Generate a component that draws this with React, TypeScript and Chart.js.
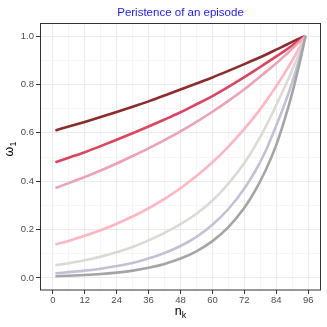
import React, { useEffect, useRef } from "react";
import { Chart, registerables } from "chart.js";

Chart.register(...registerables);

const nValues = [1, 6, 12, 18, 24, 30, 36, 42, 48, 54, 60, 66, 72, 76, 80, 84, 87, 90, 93, 95];
const seriesDarkRed = [0.61, 0.626, 0.645, 0.665, 0.686, 0.708, 0.73, 0.754, 0.779, 0.804, 0.829, 0.856, 0.884, 0.903, 0.923, 0.944, 0.96, 0.976, 0.991, 1.0];
const seriesCrimson = [0.478, 0.497, 0.52, 0.545, 0.571, 0.598, 0.626, 0.655, 0.685, 0.718, 0.752, 0.79, 0.83, 0.858, 0.887, 0.916, 0.938, 0.961, 0.985, 1.0];
const seriesRose = [0.372, 0.392, 0.417, 0.444, 0.473, 0.504, 0.536, 0.57, 0.606, 0.645, 0.687, 0.732, 0.78, 0.815, 0.851, 0.888, 0.917, 0.948, 0.979, 1.0];
const seriesPink = [0.138, 0.153, 0.174, 0.197, 0.224, 0.254, 0.288, 0.327, 0.371, 0.421, 0.478, 0.543, 0.616, 0.67, 0.729, 0.793, 0.845, 0.9, 0.959, 1.0];
const seriesBeige = [0.052, 0.061, 0.073, 0.088, 0.106, 0.128, 0.155, 0.186, 0.222, 0.265, 0.32, 0.39, 0.475, 0.545, 0.625, 0.715, 0.785, 0.86, 0.94, 1.0];
const seriesLavender = [0.019, 0.024, 0.03, 0.038, 0.049, 0.062, 0.08, 0.103, 0.132, 0.17, 0.22, 0.285, 0.37, 0.44, 0.525, 0.63, 0.715, 0.81, 0.918, 1.0];
const seriesGray = [0.007, 0.009, 0.012, 0.016, 0.022, 0.03, 0.042, 0.058, 0.08, 0.11, 0.152, 0.21, 0.29, 0.36, 0.445, 0.55, 0.65, 0.765, 0.9, 1.0];

const seriesList = [seriesGray, seriesLavender, seriesBeige, seriesPink, seriesRose, seriesCrimson, seriesDarkRed];
const seriesColors = ["#a5a5a7", "#c3c1d5", "#dcdad5", "#ffb6c1", "#eda2b6", "#dc4560", "#8c2c2c"];

const xTicks = [0, 12, 24, 36, 48, 60, 72, 84, 96];
const xMinorTicks = [6, 18, 30, 42, 54, 66, 78, 90];
const yTicks = [0, 0.2, 0.4, 0.6, 0.8, 1.0];
const yMinorTicks = [0.1, 0.3, 0.5, 0.7, 0.9];

const titleText = "Peristence of an episode";

const FONT = "'Liberation Sans', Arial, Helvetica, sans-serif";

export default function App() {
  const ref = useRef<HTMLCanvasElement | null>(null);

  useEffect(() => {
    const canvas = ref.current;
    if (!canvas) return;

    const textPlugin = {
      id: "textPlugin",
      afterDraw(chart: any) {
        const ctx = chart.ctx;
        const a = chart.chartArea;
        ctx.save();
        ctx.strokeStyle = "#333333";
        ctx.lineWidth = 1;
        ctx.strokeRect(Math.round(a.left) + 0.5, Math.round(a.top) - 0.5, Math.round(a.right - a.left) - 1, Math.round(a.bottom - a.top) + 0.5);
        ctx.fillStyle = "#1a1aff";
        ctx.font = `11.5px ${FONT}`;
        ctx.textAlign = "center";
        ctx.textBaseline = "alphabetic";
        ctx.fillText(titleText, (a.left + a.right) / 2, 16);
        ctx.fillStyle = "#000000";
        ctx.font = `12.5px ${FONT}`;
        ctx.textAlign = "left";
        const nW = ctx.measureText("n").width;
        ctx.font = `9px ${FONT}`;
        const kW = ctx.measureText("k").width;
        const xs = (a.left + a.right) / 2 - (nW + kW) / 2;
        ctx.font = `12.5px ${FONT}`;
        ctx.fillText("n", xs, 315);
        ctx.font = `9px ${FONT}`;
        ctx.fillText("k", xs + nW, 318);
        ctx.translate(13, 149);
        ctx.rotate(-Math.PI / 2);
        ctx.font = `12.5px ${FONT}`;
        const wW = ctx.measureText("ω").width;
        ctx.font = `9px ${FONT}`;
        const oneW = ctx.measureText("1").width;
        const ys = -(wW + oneW) / 2;
        ctx.font = `12.5px ${FONT}`;
        ctx.fillText("ω", ys, 0);
        ctx.font = `9px ${FONT}`;
        ctx.fillText("1", ys + wW, 3);
        ctx.restore();
      },
    };

    const isMajorX = (v: number) => xTicks.some((t) => Math.abs(t - v) < 1e-6);
    const isMajorY = (v: number) => yTicks.some((t) => Math.abs(t - v) < 1e-6);

    const chart = new Chart(canvas, {
      type: "line",
      data: {
        datasets: seriesList.map((s, i) => ({
          data: nValues.map((n, j) => ({ x: n, y: s[j] })),
          borderColor: seriesColors[i],
          borderWidth: 2.6,
          pointRadius: 0,
          fill: false,
          cubicInterpolationMode: "monotone" as const,
        })),
      },
      options: {
        responsive: false,
        animation: false,
        layout: { padding: { top: 24, right: 6, left: 0, bottom: 0 } },
        plugins: { legend: { display: false }, title: { display: false }, tooltip: { enabled: false } },
        scales: {
          x: {
            type: "linear",
            min: -4.8,
            max: 100.8,
            afterFit(scale: any) {
              scale.height = 37;
            },
            afterBuildTicks(scale: any) {
              scale.ticks = [...xTicks, ...xMinorTicks].sort((p, q) => p - q).map((v) => ({ value: v }));
            },
            ticks: {
              autoSkip: false,
              maxRotation: 0,
              padding: 1,
              color: "#4d4d4d",
              font: { family: FONT, size: 9.5 },
              callback: (v: any) => (isMajorX(Number(v)) ? String(Math.round(Number(v))) : ""),
            },
            grid: {
              color: (c: any) => (c.tick && isMajorX(c.tick.value) ? "#ebebeb" : "#f5f5f5"),
              tickColor: (c: any) => (c.tick && isMajorX(c.tick.value) ? "#333333" : "rgba(0,0,0,0)"),
              tickLength: 4,
              lineWidth: 1,
            },
            border: { display: false },
          },
          y: {
            type: "linear",
            min: -0.05,
            max: 1.05,
            afterFit(scale: any) {
              scale.width = 40;
            },
            afterBuildTicks(scale: any) {
              scale.ticks = [...yTicks, ...yMinorTicks].sort((p, q) => p - q).map((v) => ({ value: v }));
            },
            ticks: {
              autoSkip: false,
              padding: 2,
              color: "#4d4d4d",
              font: { family: FONT, size: 9.5 },
              callback: (v: any) => (isMajorY(Number(v)) ? Number(v).toFixed(1) : ""),
            },
            grid: {
              color: (c: any) => (c.tick && isMajorY(c.tick.value) ? "#ebebeb" : "#f5f5f5"),
              tickColor: (c: any) => (c.tick && isMajorY(c.tick.value) ? "#333333" : "rgba(0,0,0,0)"),
              tickLength: 4,
              lineWidth: 1,
            },
            border: { display: false },
          },
        },
      },
      plugins: [textPlugin],
    });

    return () => chart.destroy();
  }, []);

  return (
    <div style={{ position: "fixed", left: 0, top: 0, width: 327, height: 327, background: "#ffffff" }}>
      <canvas ref={ref} width={327} height={327} style={{ width: 327, height: 327, display: "block" }} />
    </div>
  );
}
